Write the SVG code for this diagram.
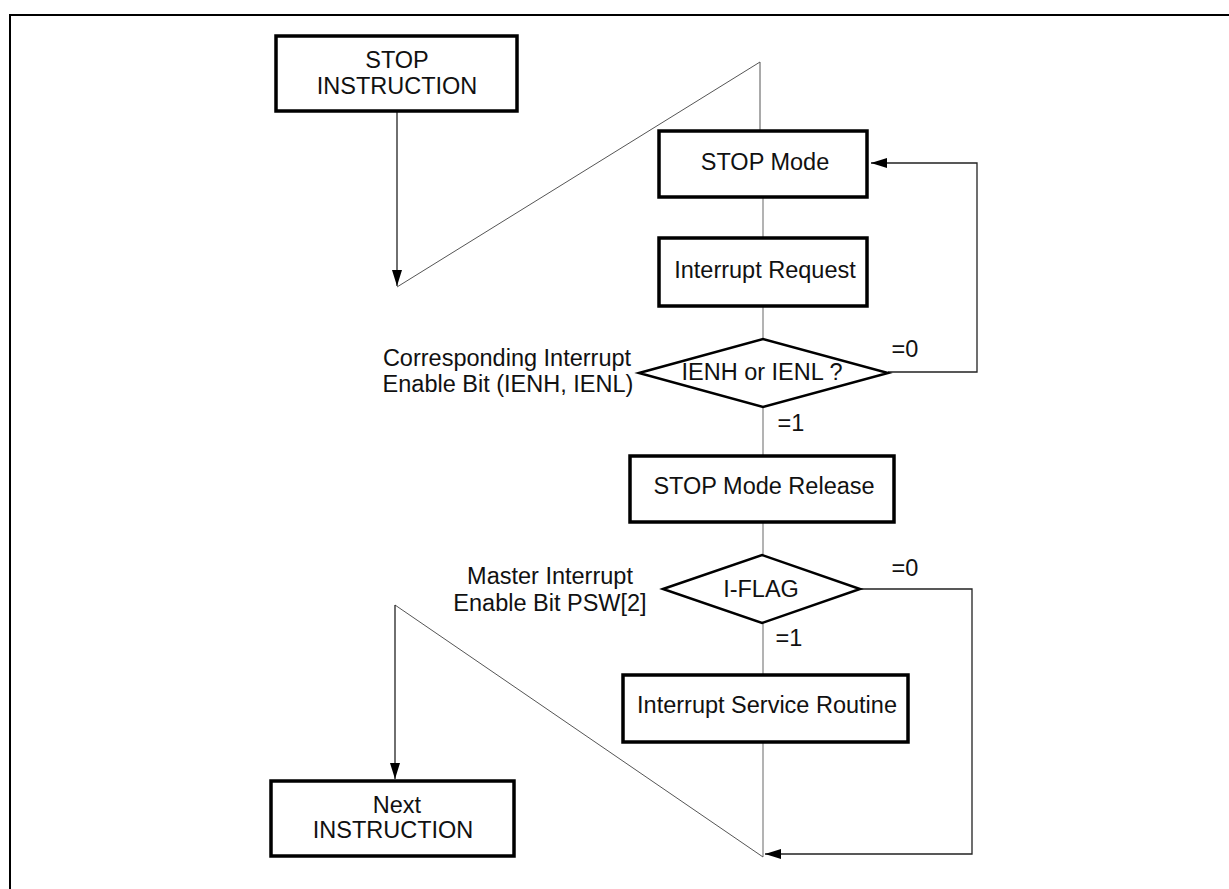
<svg xmlns="http://www.w3.org/2000/svg" width="1229" height="889" viewBox="0 0 1229 889">
<style>
.box{fill:#fff;stroke:#000;stroke-width:3.5}
.dia{fill:#fff;stroke:#000;stroke-width:2.5}
.t{font-family:"Liberation Sans",Arial,sans-serif;font-size:23.5px;fill:#111;text-anchor:middle}
.gray{fill:none;stroke:#9a9a9a;stroke-width:1.5}
.dark{fill:none;stroke:#222;stroke-width:1.3}
.diag{fill:none;stroke:#555;stroke-width:1}
</style>
<defs>
<marker id="ah" markerWidth="16" markerHeight="10" refX="16" refY="5" orient="auto" markerUnits="userSpaceOnUse">
<path d="M0,0 L16,5 L0,10 Z" fill="#000"/>
</marker>
</defs>
<rect width="1229" height="889" fill="#fff"/>
<path d="M10,889 V15 H1229" fill="none" stroke="#000" stroke-width="2"/>

<g id="connectors">
<path class="dark" d="M397,111 V286" marker-end="url(#ah)"/>
<path class="diag" d="M397,287 L760,62 V131"/>
<path class="gray" d="M763,197 V238"/>
<path class="gray" d="M763,306 V339"/>
<path class="gray" d="M763,407 V456"/>
<path class="gray" d="M763,522 V555"/>
<path class="gray" d="M763,623 V675"/>
<path class="gray" d="M763,742 V857"/>
<path class="dark" d="M888,372 H977 V163 H871" marker-end="url(#ah)"/>
<path class="dark" d="M860,589 H972 V854 H765" marker-end="url(#ah)"/>
<path class="diag" d="M763,857 L395,605"/>
<path class="dark" d="M395,605 V779" marker-end="url(#ah)"/>
</g>

<g id="stop-instruction">
<rect class="box" x="276" y="36" width="241" height="75"/>
<text class="t" x="397" y="68">STOP</text>
<text class="t" x="397" y="94">INSTRUCTION</text>
</g>

<g id="stop-mode">
<rect class="box" x="659" y="131" width="208" height="66"/>
<text class="t" x="765" y="170">STOP Mode</text>
</g>

<g id="interrupt-request">
<rect class="box" x="659" y="238" width="208" height="68"/>
<text class="t" x="765" y="278">Interrupt Request</text>
</g>

<g id="ien-decision">
<polygon class="dia" points="639,373 763,339 888,373 763,407"/>
<text class="t" x="762" y="380">IENH or IENL ?</text>
<text class="t" x="507" y="366">Corresponding Interrupt</text>
<text class="t" x="508" y="392">Enable Bit (IENH, IENL)</text>
<text class="t" x="905" y="357">=0</text>
<text class="t" x="791" y="431">=1</text>
</g>

<g id="stop-mode-release">
<rect class="box" x="630" y="456" width="264" height="66"/>
<text class="t" x="764" y="494">STOP Mode Release</text>
</g>

<g id="iflag-decision">
<polygon class="dia" points="663,589 762,555 860,589 762,623"/>
<text class="t" x="761" y="597">I-FLAG</text>
<text class="t" x="550" y="584">Master Interrupt</text>
<text class="t" x="550" y="611">Enable Bit PSW[2]</text>
<text class="t" x="905" y="576">=0</text>
<text class="t" x="789" y="646">=1</text>
</g>

<g id="isr">
<rect class="box" x="623" y="675" width="285" height="67"/>
<text class="t" x="767" y="713">Interrupt Service Routine</text>
</g>

<g id="next-instruction">
<rect class="box" x="271" y="781" width="243" height="75"/>
<text class="t" x="397" y="813">Next</text>
<text class="t" x="393" y="838">INSTRUCTION</text>
</g>
</svg>
